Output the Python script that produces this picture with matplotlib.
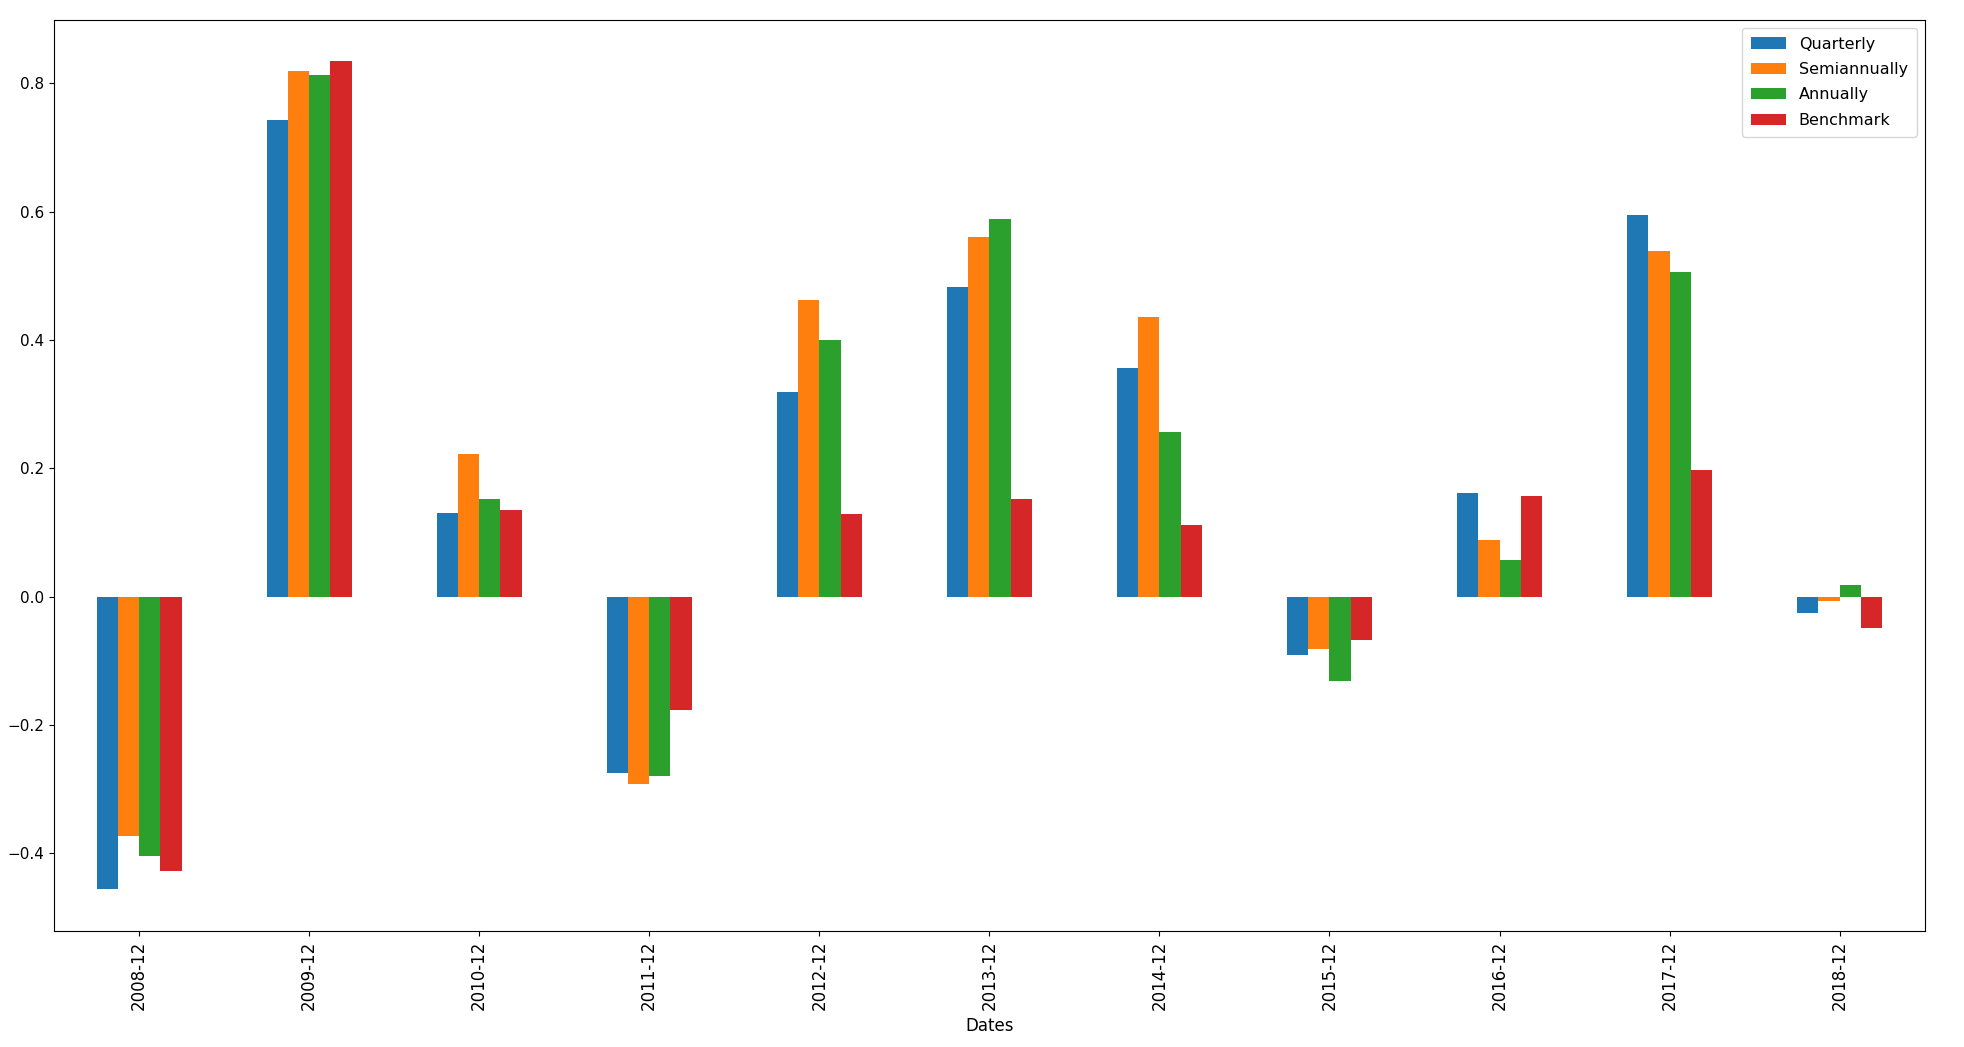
import numpy as np
import matplotlib
matplotlib.use('Agg')
import matplotlib.pyplot as plt

dates = ['2008-12', '2009-12', '2010-12', '2011-12', '2012-12', '2013-12',
         '2014-12', '2015-12', '2016-12', '2017-12', '2018-12']
quarterly = [-0.456, 0.742, 0.130, -0.274, 0.319, 0.483, 0.356, -0.091, 0.162, 0.594, -0.025]
semiannually = [-0.373, 0.819, 0.222, -0.292, 0.462, 0.560, 0.436, -0.082, 0.089, 0.539, -0.007]
annually = [-0.404, 0.812, 0.152, -0.279, 0.400, 0.589, 0.256, -0.132, 0.057, 0.505, 0.018]
benchmark = [-0.428, 0.834, 0.135, -0.177, 0.128, 0.152, 0.112, -0.067, 0.157, 0.197, -0.049]

series = [('Quarterly', quarterly), ('Semiannually', semiannually),
          ('Annually', annually), ('Benchmark', benchmark)]
colors = ['#1f77b4', '#ff7f0e', '#2ca02c', '#d62728']

plt.rcParams['font.size'] = 11

fig = plt.figure(figsize=(19.64, 10.47), dpi=100)
ax = fig.add_axes([0.0275, 0.111, 0.9525, 0.870])

x = np.arange(len(dates))
w = 0.5 / len(series)
for i, (name, vals) in enumerate(series):
    ax.bar(x + (i - 1.5) * w, vals, width=w, color=colors[i], label=name)

ax.set_xlim(-0.5, len(dates) - 0.5)
ax.set_xticks(x)
ax.set_xticklabels(dates, rotation=90, fontsize=12)
ax.set_xlabel('Dates', fontsize=12, labelpad=5)
ax.legend(loc='upper right', fontsize=11.5, labelspacing=0.65,
          handlelength=2.2, borderpad=0.55)

fig.savefig('out.png', dpi=100)
